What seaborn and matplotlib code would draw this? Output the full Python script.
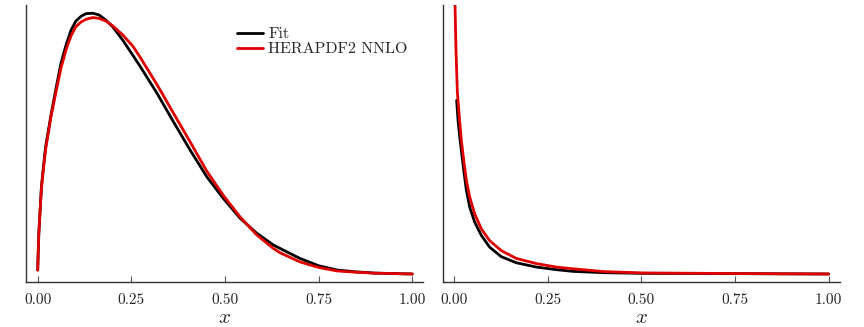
import numpy as np
import pandas as pd
import matplotlib
matplotlib.use("Agg")
import matplotlib.pyplot as plt
import seaborn as sns

# Values (x * f(x), arbitrary units)
# left panel
x_left_fit = [0.0, 0.003, 0.01, 0.019, 0.022, 0.0355, 0.049, 0.062, 0.0755, 0.089, 0.102,
              0.116, 0.129, 0.147, 0.164, 0.182, 0.2, 0.227, 0.254, 0.273, 0.318, 0.362,
              0.407, 0.451, 0.495, 0.54, 0.585, 0.629, 0.647, 0.7, 0.75, 0.8, 0.85, 0.9, 1.0]
y_left_fit = [0.009, 0.094, 0.202, 0.278, 0.298, 0.367, 0.429, 0.486, 0.528, 0.563, 0.584,
              0.595, 0.601, 0.602, 0.598, 0.586, 0.571, 0.540, 0.505, 0.480, 0.418, 0.352,
              0.286, 0.225, 0.175, 0.129, 0.094, 0.067, 0.059, 0.036, 0.019, 0.009, 0.005, 0.002, 0.0]

x_left_hera = [0.0, 0.003, 0.01, 0.019, 0.022, 0.0355, 0.049, 0.062, 0.0755, 0.089, 0.102,
               0.116, 0.129, 0.147, 0.164, 0.182, 0.2, 0.227, 0.254, 0.273, 0.318, 0.362,
               0.407, 0.451, 0.495, 0.54, 0.585, 0.629, 0.647, 0.7, 0.75, 0.8, 0.85, 0.9, 1.0]
y_left_hera = [0.009, 0.094, 0.198, 0.271, 0.292, 0.363, 0.421, 0.475, 0.517, 0.550, 0.571,
               0.582, 0.588, 0.592, 0.590, 0.584, 0.573, 0.552, 0.526, 0.501, 0.438, 0.372,
               0.305, 0.238, 0.182, 0.132, 0.090, 0.059, 0.049, 0.028, 0.015, 0.007, 0.004, 0.002, 0.0]

# right panel
x_right_fit = [0.007, 0.0107, 0.015, 0.0196, 0.026, 0.033, 0.042, 0.055, 0.073, 0.095,
               0.126, 0.166, 0.22, 0.273, 0.318, 0.4, 0.5, 0.75, 1.0]
y_right_fit = [0.401, 0.355, 0.318, 0.285, 0.239, 0.193, 0.154, 0.120, 0.089, 0.062,
               0.040, 0.026, 0.016, 0.010, 0.006, 0.003, 0.0015, 0.0008, 0.0]

x_right_hera = [0.002, 0.0027, 0.0053, 0.0089, 0.0107, 0.015, 0.0196, 0.026, 0.033, 0.042,
                0.055, 0.073, 0.095, 0.126, 0.166, 0.22, 0.273, 0.318, 0.4, 0.5, 0.75, 1.0]
y_right_hera = [0.70, 0.62, 0.516, 0.42, 0.400, 0.354, 0.308, 0.262, 0.216, 0.177,
                0.139, 0.104, 0.077, 0.054, 0.036, 0.024, 0.016, 0.012, 0.0055, 0.0025, 0.001, 0.0]

labels = ["Fit", "HERAPDF2 NNLO"]
colors = {"Fit": "black", "HERAPDF2 NNLO": "#e00000"}
xticks = [0.0, 0.25, 0.5, 0.75, 1.0]

left = pd.concat([
    pd.DataFrame({"x": x_left_fit, "y": y_left_fit, "pdf": labels[0]}),
    pd.DataFrame({"x": x_left_hera, "y": y_left_hera, "pdf": labels[1]}),
])
right = pd.concat([
    pd.DataFrame({"x": x_right_fit, "y": y_right_fit, "pdf": labels[0]}),
    pd.DataFrame({"x": x_right_hera, "y": y_right_hera, "pdf": labels[1]}),
])

sns.set_style("ticks")
plt.rcParams["font.family"] = ["cmr10", "DejaVu Serif"]
plt.rcParams["mathtext.fontset"] = "cm"
plt.rcParams["axes.formatter.use_mathtext"] = True

fig = plt.figure(figsize=(8.64, 3.27), dpi=100)
ax1 = fig.add_axes([26 / 864, 1 - 281.7 / 327, 397 / 864, 276.7 / 327])
ax2 = fig.add_axes([443 / 864, 1 - 281.7 / 327, 397 / 864, 276.7 / 327])

sns.lineplot(data=left, x="x", y="y", hue="pdf", palette=colors, linewidth=2,
             sort=False, estimator=None, ax=ax1)
sns.lineplot(data=right, x="x", y="y", hue="pdf", palette=colors, linewidth=2,
             sort=False, estimator=None, ax=ax2, legend=False)

for ax, xl in [(ax1, (-0.0312, 1.0286)), (ax2, (-0.0294, 1.030))]:
    ax.set_xlim(*xl)
    ax.set_ylim(-0.0178, 0.621)
    ax.set_xticks(xticks)
    ax.set_xticklabels([f"{t:.2f}" for t in xticks], fontsize=11)
    ax.set_yticks([])
    ax.set_xlabel("$x$", fontsize=15, labelpad=2)
    ax.set_ylabel("")
    ax.tick_params(axis="x", direction="in", length=4, width=0.8, color="#555555", pad=8)
    for s in ["top", "right"]:
        ax.spines[s].set_visible(False)
    for s in ["left", "bottom"]:
        ax.spines[s].set_color("#333333")
        ax.spines[s].set_linewidth(1.0)

ax1.legend(loc="upper left", bbox_to_anchor=((237 - 26) / 397, (281.7 - 27) / 276.7),
           frameon=False, fontsize=11.5, borderpad=0, borderaxespad=0,
           handlelength=1.65, handletextpad=0.3, labelspacing=0.05, title=None)

fig.savefig("out.png", dpi=100)
